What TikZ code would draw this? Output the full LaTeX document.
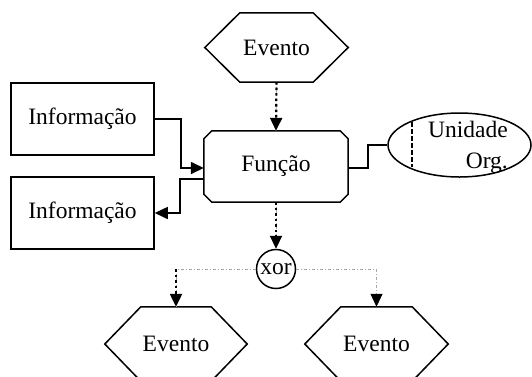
\documentclass[tikz,border=0pt]{standalone}
\usepackage{fontspec}
\setmainfont{Liberation Serif}
\usetikzlibrary{arrows.meta,calc,shapes.geometric}

% hexagonal event box around a named node; #2 = horizontal inset of the points
\newcommand\eventhex[2]{%
  \draw[shapeline] (#1.west) -- ([xshift=#2]#1.north west) -- ([xshift=-#2]#1.north east)
    -- (#1.east) -- ([xshift=-#2]#1.south east) -- ([xshift=#2]#1.south west) -- cycle;}
% rectangle with clipped corners around a named node
\newcommand\funcbox[2]{%
  \draw[shapeline] ([xshift=#2]#1.north west) -- ([xshift=-#2]#1.north east)
    -- ([yshift=-#2]#1.north east) -- ([yshift=#2]#1.south east)
    -- ([xshift=-#2]#1.south east) -- ([xshift=#2]#1.south west)
    -- ([yshift=#2]#1.south west) -- ([yshift=-#2]#1.north west) -- cycle;}

\begin{document}
\begin{tikzpicture}[x=1pt,y=-1pt,
  every node/.style={font=\fontsize{23.5}{30}\selectfont, inner sep=0pt},
  shapeline/.style={line width=1.5pt, line join=miter},
  infobox/.style={draw, shapeline, minimum width=143, minimum height=72},
  hexnode/.style={minimum width=143, minimum height=69},
  wire/.style={line width=1.5pt},
  flow/.style={-{Triangle[length=13pt,width=12pt,black]}},
  grayline/.style={gray!70, line width=0.7pt, dash pattern=on 3pt off 2pt on 1pt off 2pt},
  blackdots/.style={black, line width=2.2pt, dash pattern=on 2.5pt off 3pt},
]
\useasboundingbox (0,0) rectangle (532,376);
\clip (0,0) rectangle (532,376);

% event, function, information carriers
\node[hexnode] (ev1) at (276.5,47.5) {Evento};
\eventhex{ev1}{35}
\node[minimum width=144, minimum height=71] (fun) at (276,166.5) {Função};
\funcbox{fun}{8}
\node[infobox] (info1) at (82.5,119) {Informação};
\node[infobox] (info2) at (82.5,213) {Informação};

% organisational unit
\node[draw, shapeline, ellipse, minimum width=143, minimum height=64] (org) at (459.5,145) {};
\draw[line width=2pt, dash pattern=on 4.5pt off 2.5pt] ($(org.center)+(-47.5,-23)$) -- ($(org.center)+(-47.5,22)$);
\node[anchor=base east] (unid) at (508,137.5) {Unidade};
\node[anchor=base east] (orgtx) at (508,168.5) {Org.};

% xor connector and following events
\node[draw, line width=1.5pt, circle, minimum size=39] (xor) at (276,269) {xor};
\node[minimum width=142, minimum height=74] (evL) at (176,344) {Evento};
\eventhex{evL}{36}
\node[minimum width=143, minimum height=74] (evR) at (376.5,344) {Evento};
\eventhex{evR}{36}

% control flow
\draw[grayline] (ev1.south) -- (fun.north);
\draw[blackdots, flow] (ev1.south) -- (fun.north);
\draw[grayline] (fun.south) -- (xor.north);
\draw[blackdots, flow] (fun.south) -- (xor.north);
\draw[grayline] (xor.west) -| (evL.north);
\draw[blackdots, flow] (xor.west -| evL.north) -- (evL.north);
\draw[grayline, flow] (xor.east) -| (evR.north);

% information flow
\draw[wire, flow] (info1.east) -- ++(26,0) |- ($(fun.west)+(0,1.5)$);
\draw[wire, flow] ($(fun.west)+(0,12.5)$) -- ++(-24,0) |- (info2.east);
\draw[wire] ($(fun.east)+(0,1.5)$) -- ++(20,0) |- (org.west);
\end{tikzpicture}
\end{document}
